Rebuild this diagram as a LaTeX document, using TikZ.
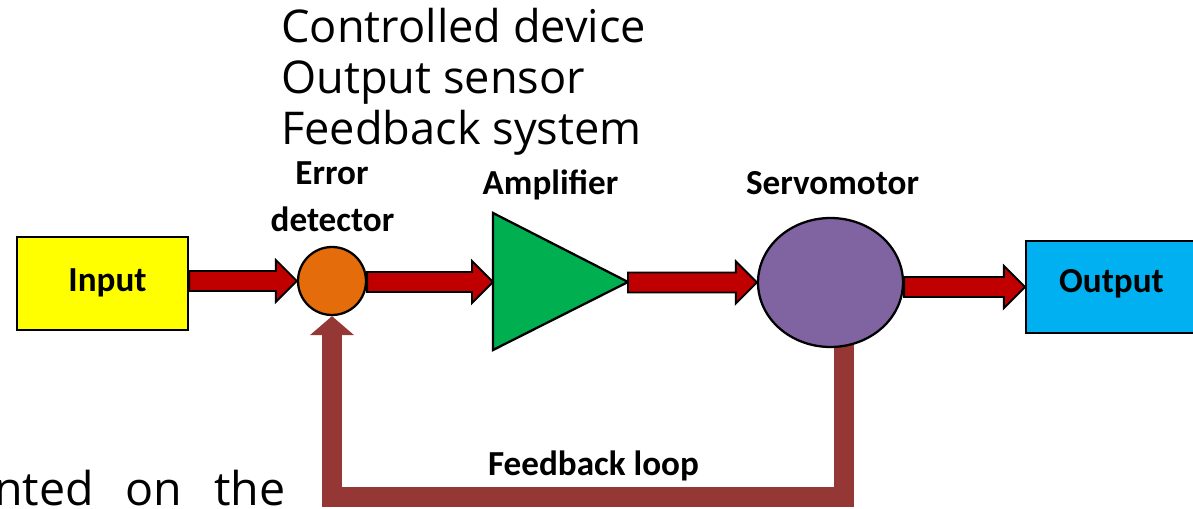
\documentclass[tikz,border=0pt]{standalone}
\usepackage{fontspec}
\newfontfamily\lblfont{Carlito}
\newfontfamily\osfont{Open Sans}
\usetikzlibrary{shapes.geometric,arrows.meta,calc,backgrounds}
\definecolor{inyellow}{HTML}{FFFF00}
\definecolor{edorange}{HTML}{E46C0A}
\definecolor{ampgreen}{HTML}{00B050}
\definecolor{srvpurple}{HTML}{8064A2}
\definecolor{outcyan}{HTML}{00B0F0}
\definecolor{arrred}{HTML}{C00000}
\definecolor{fbred}{HTML}{953735}
\tikzset{
  blk/.style={draw=black, line width=1.3pt, inner sep=0pt},
  lbl/.style={font=\lblfont\bfseries\fontsize{20pt}{24pt}\selectfont, inner sep=0pt, anchor=base},
  toptxt/.style={font=\osfont\fontsize{25.7pt}{29pt}\selectfont, inner sep=0pt, anchor=base west},
  bodytxt/.style={font=\osfont\fontsize{26.5pt}{30pt}\selectfont, inner sep=0pt, anchor=base east},
  blockarr/.style={draw=black, line width=1.1pt, fill=arrred, line join=miter},
  fb/.style={draw=fbred, line width=0.4cm, line join=miter, -{Triangle[width=0.86cm,length=0.38cm]}}
}
\newcommand{\blockarrow}[2]{%
  \draw[blockarr] let \p1=(#1), \p2=(#2) in
    (\x1,\y2+0.2cm) -- (\x2-0.42cm,\y2+0.2cm) -- (\x2-0.42cm,\y2+0.42cm) -- (\x2,\y2)
    -- (\x2-0.42cm,\y2-0.42cm) -- (\x2-0.42cm,\y2-0.2cm) -- (\x1,\y2-0.2cm) -- cycle;}
\begin{document}
\begin{tikzpicture}[x=0.02cm,y=-0.02cm]
\useasboundingbox (0,0) rectangle (1193,509);
\clip (0,0) rectangle (1193,509);

% top text
\node[toptxt] (t1) at (281,43) {Controlled device};
\node[toptxt] (t2) at (281,94) {Output sensor};
\node[toptxt] (t3) at (281,145) {Feedback system};
\node[bodytxt] (body) at (286,505) {nted\hspace{0.64cm}on\hspace{0.64cm}the};

% blocks
\node[blk, fill=inyellow, minimum width=3.42cm, minimum height=1.86cm] (in) at (102.5,283.5) {};
\node[blk, circle, fill=edorange, minimum size=1.36cm] (ed) at (332,281) {};
\draw[blk, fill=ampgreen] (493,213) -- (628,282) -- (493,350) -- cycle;
\coordinate (ampin) at (493,282);
\coordinate (ampout) at (628,282);
\node[blk, ellipse, fill=srvpurple, minimum width=2.9cm, minimum height=2.58cm] (servo) at (830.5,282.5) {};
\node[blk, fill=outcyan, minimum width=3.48cm, minimum height=1.84cm] (out) at (1113,287) {};

% feedback loop (behind nodes)
\coordinate (fbs) at (844,340);
\coordinate (fbb) at (844,497);
\begin{pgfonlayer}{background}
\draw[fb] (fbs) -- (fbb) -| (ed.south);
\end{pgfonlayer}

% arrows
\blockarrow{in.east}{ed.west}
\blockarrow{ed.east}{ampin}
\blockarrow{ampout}{servo.west}
\blockarrow{servo.east}{out.west}

% labels
\node[lbl] (intext) at (107.5,292) {Input};
\node[lbl] (outtext) at (1111.5,293) {Output};
\node[lbl] (errlbl) at (332,185) {Error};
\node[lbl] (detlbl) at (332.5,232) {detector};
\node[lbl] (amplbl) at (550.5,195) {Amplifier};
\node[lbl] (srvlbl) at (832.5,195) {Servomotor};
\node[lbl] (fblbl) at (593.5,476) {Feedback loop};
\end{tikzpicture}
\end{document}
